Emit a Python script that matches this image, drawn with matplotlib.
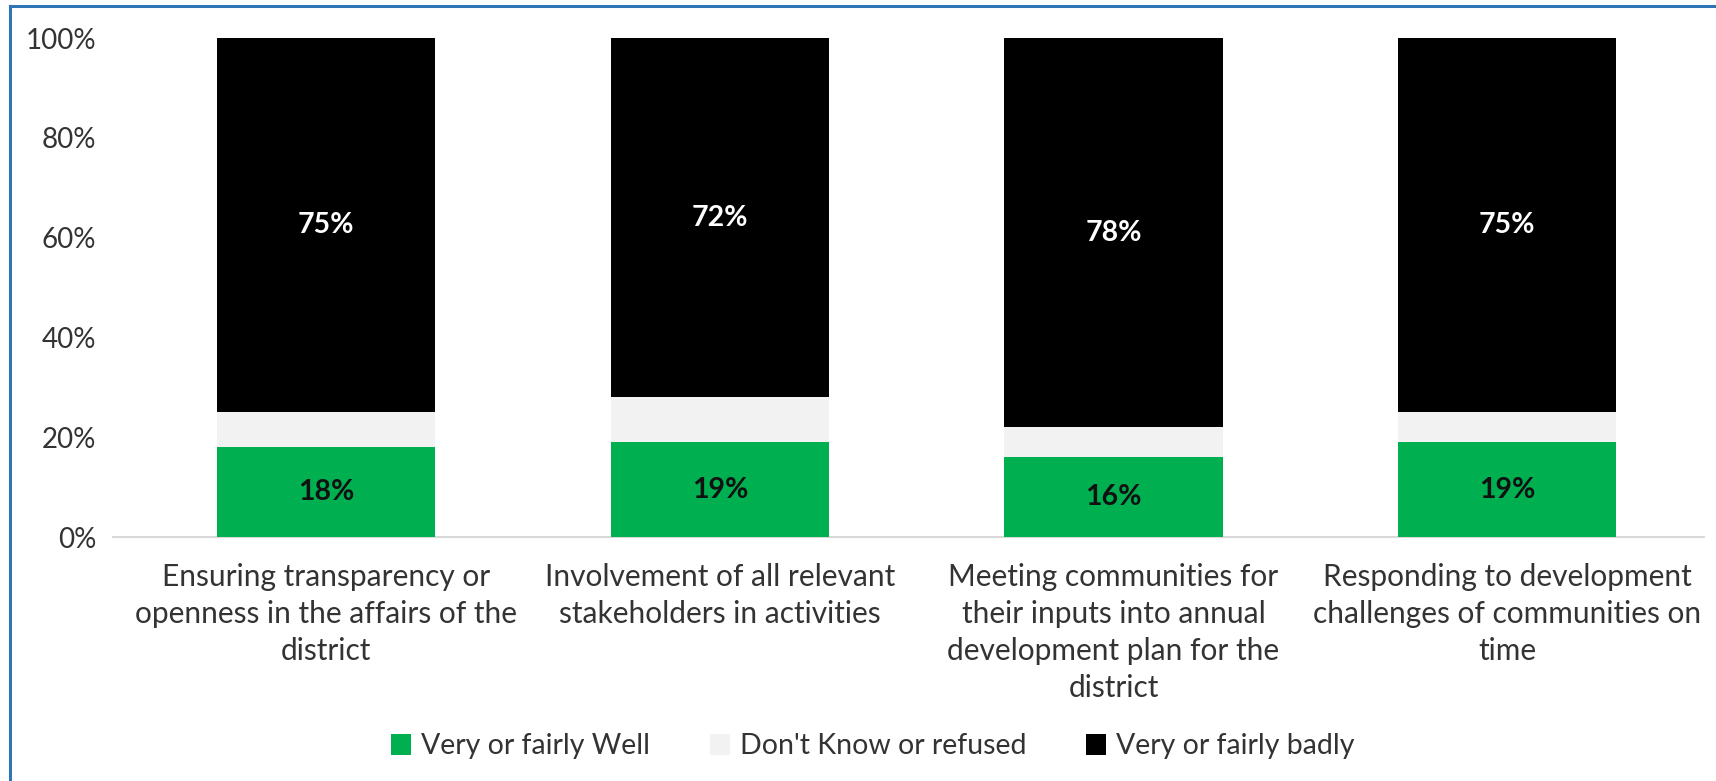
import matplotlib
matplotlib.use('Agg')
import matplotlib.pyplot as plt
import matplotlib.ticker as mticker
from matplotlib.patches import Patch
from matplotlib.lines import Line2D
import numpy as np

plt.rcParams['font.family'] = ['Lato', 'DejaVu Sans']

# ----------------------------------------------------------
# Data: share of respondents per district task
# ----------------------------------------------------------
categories = [
    'Ensuring transparency or\nopenness in the affairs of the\ndistrict',
    'Involvement of all relevant\nstakeholders in activities',
    'Meeting communities for\ntheir inputs into annual\ndevelopment plan for the\ndistrict',
    'Responding to development\nchallenges of communities on\ntime',
]
well     = [18, 19, 16, 19]
dont_know = [7, 9, 6, 6]
badly    = [75, 72, 78, 75]

series_names = ['Very or fairly Well', "Don't Know or refused", 'Very or fairly badly']
GREEN, GREY, BLACK = '#00B050', '#F2F2F2', '#000000'
TXT = '#333333'

fig = plt.figure(figsize=(17.16, 7.81), dpi=100)
ax = fig.add_axes([0.0659, 0.3124, 0.9272, 0.6389])

x = np.arange(len(categories))
w = 0.554
b1 = ax.bar(x, well, w, color=GREEN, zorder=3)
b2 = ax.bar(x, dont_know, w, bottom=well, color=GREY, zorder=3)
bottom2 = np.array(well) + np.array(dont_know)
b3 = ax.bar(x, badly, w, bottom=bottom2, color=BLACK, zorder=3)

# value labels inside the green and black segments
for i in range(len(categories)):
    ax.text(x[i], well[i] / 2, f'{well[i]}%', ha='center', va='center',
            fontsize=20.5, fontweight='bold', color='#111111', zorder=4)
    ax.text(x[i], bottom2[i] + badly[i] / 2, f'{badly[i]}%', ha='center', va='center',
            fontsize=20.5, fontweight='bold', color='white', zorder=4)

ax.set_xlim(-0.541, 3.5)
ax.set_ylim(0, 100)
ax.yaxis.set_major_locator(mticker.MultipleLocator(20))
ax.yaxis.set_major_formatter(mticker.FuncFormatter(lambda v, _: f'{v:.0f}%'))
ax.tick_params(axis='y', length=0, pad=12, labelsize=20, labelcolor=TXT)
ax.set_xticks(x)
ax.set_xticklabels(categories, fontsize=21.5, color=TXT, linespacing=1.39)
ax.tick_params(axis='x', length=0, pad=19)

for s in ['top', 'right', 'left']:
    ax.spines[s].set_visible(False)
ax.spines['bottom'].set_color('#D9D9D9')
ax.spines['bottom'].set_linewidth(1.5)

handles = [Patch(facecolor=c, edgecolor='none') for c in (GREEN, GREY, BLACK)]
fig.legend(handles, series_names, loc='center', bbox_to_anchor=(0.5087, 0.0448),
           ncol=3, frameon=False, fontsize=20.5, handlelength=0.7, handleheight=0.75,
           handletextpad=0.35, columnspacing=2.1, labelcolor=TXT)

# blue frame along the top and left edges
fig.add_artist(Line2D([10 / 1716, 10 / 1716], [0, 1 - 6 / 781], transform=fig.transFigure,
                      color='#2E75B6', linewidth=2.2))
fig.add_artist(Line2D([10 / 1716, 1], [1 - 6 / 781, 1 - 6 / 781], transform=fig.transFigure,
                      color='#2E75B6', linewidth=2.2))

plt.savefig('out.png', dpi=100)
